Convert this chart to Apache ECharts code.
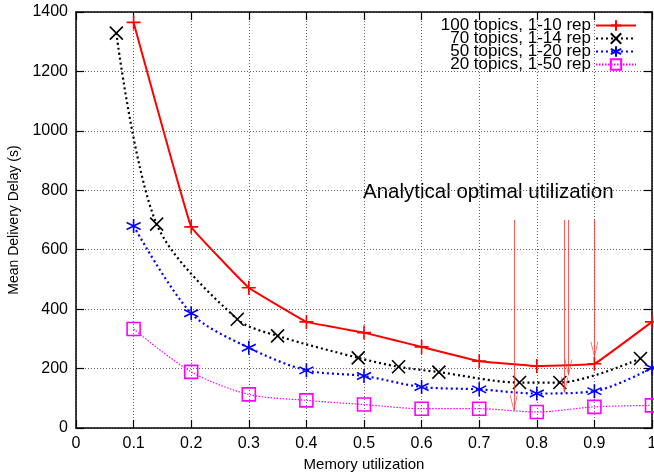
<!DOCTYPE html>
<html><head><meta charset="utf-8">
<script src="https://cdn.jsdelivr.net/npm/echarts@6/dist/echarts.min.js"></script>
<style>html,body{margin:0;padding:0;background:#fff}#c{width:654px;height:474px}</style>
</head><body><div id="c"></div>
<script>
const xs = [0.1,0.2,0.3,0.4,0.5,0.6,0.7,0.8,0.9,1.0];
const xsBlack = [0.07,0.14,0.28,0.35,0.49,0.56,0.63,0.77,0.84,0.98];
const red100 = [1365,677,472,357,321,273,225,209,216,357];
const black70 = [1329,686,366,310,236,206,188,153,153,234];
const blue50 = [680,386,270,194,175,138,130,116,124,202];
const mag20 = [333,189,113,93,79,65,65,54,71,76];
const seriesNames = ['100 topics, 1-10 rep','70 topics, 1-14 rep','50 topics, 1-20 rep','20 topics, 1-50 rep'];
const arrowX = [0.76,0.848,0.855,0.9];
const arrowTop = [700,700,700,700];
const arrowBottom = [60,121,180,240];
const annotation = 'Analytical optimal utilization';

const FONT = 'Liberation Sans';
const pair = (x, y) => x.map((v, i) => [v, y[i]]);
const plus = 'path://M5,0L5,10M0,5L10,5';
const cross = 'path://M0,0L10,10M0,10L10,0';
const star = 'path://M5,0L5,10M0.7,2.5L9.3,7.5M0.7,7.5L9.3,2.5';
const square = 'path://M0,0L10,0L10,10L0,10Z';
const vhead = 'path://M0,0L5,10L10,0';

function mk(name, data, color, sym, size, lw, type, smooth) {
  return {
    name, type: 'line', data, smooth, symbol: sym, symbolSize: size,
    lineStyle: {color, width: lw, type},
    itemStyle: {color: 'transparent', borderColor: color, borderWidth: 1.6},
    emphasis: {disabled: true}, z: 3
  };
}

const chart = echarts.init(document.getElementById('c'), null, {renderer: 'canvas'});
const axisCommon = {
  axisLine: {show: true, onZero: false, lineStyle: {color: '#000', width: 1.5}},
  axisTick: {show: true, inside: true, length: 8, lineStyle: {color: '#000', width: 1.2}},
};
chart.setOption({
  animation: false,
  textStyle: {fontFamily: FONT},
  grid: {left: 76, right: 2, top: 12, bottom: 46, show: false, containLabel: false, outerBoundsMode: 'none'},
  legend: {
    orient: 'vertical', right: 12, top: 12, align: 'right',
    itemWidth: 40, itemHeight: 13, itemGap: -4,
    textStyle: {fontSize: 17, color: '#000', fontFamily: FONT},
    data: seriesNames
  },
  xAxis: [
    Object.assign({type: 'value', min: 0, max: 1, interval: 0.1, position: 'bottom',
      name: 'Memory utilization', nameLocation: 'middle', nameGap: 26,
      nameTextStyle: {fontSize: 15, color: '#000'},
      axisLabel: {fontSize: 16, color: '#000', margin: 8,
        formatter: v => (Math.abs(v) < 1e-9 ? '0' : Math.abs(v - 1) < 1e-9 ? '1' : v.toFixed(1))},
      splitLine: {show: true, lineStyle: {color: '#666', type: [1, 2], width: 1}}
    }, axisCommon),
    Object.assign({type: 'value', min: 0, max: 1, interval: 0.1, position: 'top',
      axisLabel: {show: false}, splitLine: {show: false}}, axisCommon)
  ],
  yAxis: [
    Object.assign({type: 'value', min: 0, max: 1400, interval: 200, position: 'left',
      name: 'Mean Delivery Delay (s)', nameLocation: 'middle', nameGap: 51,
      nameTextStyle: {fontSize: 14, color: '#000'},
      axisLabel: {fontSize: 16, color: '#000', margin: 8, formatter: v => String(v)},
      splitLine: {show: true, lineStyle: {color: '#666', type: [1, 2], width: 1}}
    }, axisCommon),
    Object.assign({type: 'value', min: 0, max: 1400, interval: 200, position: 'right',
      axisLabel: {show: false}, splitLine: {show: false}}, axisCommon)
  ],
  graphic: [{
    type: 'text', left: 363, top: 182,
    style: {text: annotation, fontSize: 20.5, fill: '#000', fontFamily: FONT}
  }],
  series: [
    mk(seriesNames[0], pair(xs, red100), '#ff0000', plus, 14, 2, 'solid', 0.05),
    mk(seriesNames[1], pair(xsBlack, black70), '#000000', cross, 13, 2.2, [2, 3], 0.3),
    mk(seriesNames[2], pair(xs, blue50), '#0000ff', star, 14, 2.2, [2, 3], 0.3),
    mk(seriesNames[3], pair(xs, mag20), '#ff00ff', square, 13, 1.2, [1.5, 1.5], 0.3),
    {
      name: 'arrows', type: 'line', data: [], silent: true,
      markLine: {
        silent: true, symbol: ['none', 'none'],
        label: {show: false},
        lineStyle: {color: '#ff3030', width: 1, type: 'solid', opacity: 0.8},
        emphasis: {disabled: true},
        data: arrowX.map((x, i) => [{coord: [x, arrowTop[i]]}, {coord: [x, arrowBottom[i]]}])
      }
    },
    {
      name: 'arrowheads', type: 'scatter', silent: true,
      data: pair(arrowX, arrowBottom),
      symbol: vhead, symbolSize: [7, 15], symbolOffset: [0, '-50%'],
      itemStyle: {color: 'transparent', borderColor: '#ff3030', borderWidth: 1, opacity: 0.8},
      emphasis: {disabled: true}, z: 4
    }
  ]
});
</script></body></html>
